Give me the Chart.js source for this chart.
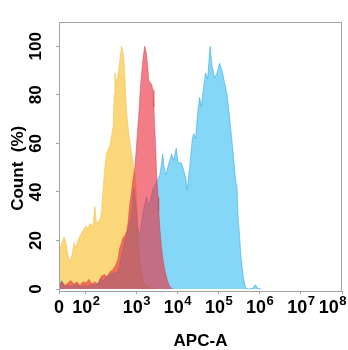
<!DOCTYPE html>
<html>
<head>
<meta charset="utf-8">
<script src="https://cdn.jsdelivr.net/npm/chart.js@4/dist/chart.umd.min.js"></script>
<style>
  html, body { margin: 0; padding: 0; background: #fff; }
  canvas { display: block; }
</style>
</head>
<body>
<canvas id="histChart" width="348" height="350"></canvas>
<script>
// APC-A axis is in display decades (10^3 -> 3); "0" and 10^2 sit on the compressed low end
const xTickPos = [1.121, 1.776, 3, 4, 5, 6, 7, 8];
const xTickBase = ['0', '10', '10', '10', '10', '10', '10', '10'];
const xTickExp = ['', '2', '3', '4', '5', '6', '7', '8'];
const yTicks = [0, 20, 40, 60, 80, 100];

// yellow population
const yellowX = [1.121, 1.170, 1.242, 1.291, 1.339, 1.388, 1.436, 1.485, 1.533, 1.582, 1.630, 1.703, 1.776, 1.824, 1.873,
    1.945, 1.994, 2.035, 2.115, 2.156, 2.195, 2.236, 2.276, 2.358, 2.438, 2.462, 2.479, 2.520, 2.559, 2.600, 2.641,
    2.673, 2.704, 2.733, 2.762, 2.794, 2.825, 2.867, 2.915, 2.964, 3.000, 3.024, 3.048, 3.085, 3.133, 3.206, 3.327, 3.448];
const yellowY = [14, 18, 21.5, 19, 14, 11, 14, 19, 17, 20, 22, 24, 26, 25, 27,
    26, 34, 27, 28.5, 32, 42, 50, 56, 59, 67, 80, 89, 85, 89, 94, 100,
    98, 94, 84, 74, 68, 63, 58, 53, 47, 40, 30, 20, 12, 6, 2, 0.5, 0];

// red population
const redX = [1.121, 1.194, 1.267, 1.339, 1.412, 1.485, 1.558, 1.630, 1.703, 1.776, 1.848, 1.921, 1.994, 2.067, 2.115,
    2.164, 2.236, 2.285, 2.358, 2.430, 2.503, 2.552, 2.600, 2.641, 2.673, 2.721, 2.770, 2.801, 2.842, 2.898, 2.927,
    2.964, 3.000, 3.029, 3.061, 3.085, 3.109, 3.141, 3.170, 3.206, 3.247, 3.279, 3.303, 3.339, 3.368, 3.407, 3.429,
    3.448, 3.473, 3.490, 3.509, 3.528, 3.545, 3.570, 3.606, 3.650, 3.691, 3.732, 3.776, 3.812, 3.885];
const redY = [2, 3, 1.5, 2.5, 3.5, 2, 3, 1.5, 3, 2.5, 4, 2, 3, 2, 4,
    5.5, 6, 5, 7, 8, 10, 12, 17, 19, 21, 22, 24, 27.6, 35, 42, 46,
    50, 58, 65, 72, 79, 85, 91, 96, 100, 97, 91, 86, 85, 84.5, 82, 75,
    67, 57, 49, 43, 38, 32, 25.6, 18, 12, 8, 5, 2.5, 1, 0];

// blue population
const blueX = [1.121, 1.194, 1.242, 1.339, 1.436, 1.533, 1.630, 1.727, 1.824, 1.921, 2.018, 2.091, 2.139, 2.188, 2.261,
    2.358, 2.455, 2.552, 2.600, 2.648, 2.721, 2.794, 2.884, 2.939, 2.988, 3.036, 3.085, 3.133, 3.182, 3.247, 3.303,
    3.352, 3.400, 3.490, 3.521, 3.570, 3.618, 3.642, 3.679, 3.715, 3.764, 3.812, 3.861, 3.909, 3.970, 4.018, 4.091,
    4.152, 4.200, 4.236, 4.297, 4.358, 4.394, 4.442, 4.491, 4.539, 4.576, 4.636, 4.685, 4.733, 4.794, 4.842, 4.903,
    4.964, 5.024, 5.085, 5.145, 5.206, 5.267, 5.339, 5.412, 5.448, 5.473, 5.509, 5.545, 5.606, 5.655, 5.727, 5.824,
    5.897, 5.945, 6.042];
const blueY = [1, 3.5, 1, 1.5, 1, 2, 1, 1.5, 1, 2, 1.5, 3, 4.5, 3, 5,
    6, 6.5, 7, 10, 14, 20, 24, 31, 42, 35, 25, 22, 28, 33, 38, 34,
    37, 41, 44, 45, 47, 52, 55.6, 50, 47, 50, 53, 55.6, 53, 58, 52, 52,
    49, 46, 40.8, 50, 61.4, 64, 62, 72.6, 79, 75, 83, 89, 86.6, 100, 91.7, 87,
    89, 93, 90, 85, 80, 71, 58.6, 45, 42, 30, 22, 13, 4.5, 0.5, 0, 0.3,
    1.8, 0.3, 0];

const FONT = '"Liberation Sans", Arial, sans-serif';

const toPoints = (xs, ys) => xs.map((x, i) => ({ x: x, y: ys[i] }));

// gray box round the plot area
const frameBox = {
    id: 'frameBox',
    afterDatasetsDraw(chart) {
        const { ctx, chartArea: a } = chart;
        ctx.save();
        ctx.strokeStyle = '#a3a3a3';
        ctx.lineWidth = 1;
        ctx.strokeRect(a.left + 0.5, a.top + 0.5, a.right - a.left - 1, a.bottom - a.top);
        ctx.restore();
    }
};

// decade labels with raised exponents
const decadeLabels = {
    id: 'decadeLabels',
    afterDraw(chart) {
        const { ctx } = chart;
        const xs = chart.scales.x;
        ctx.save();
        ctx.fillStyle = '#000';
        ctx.textBaseline = 'alphabetic';
        ctx.textAlign = 'left';
        xTickPos.forEach((v, i) => {
            const px = xs.getPixelForValue(v);
            ctx.font = 'bold 18px ' + FONT;
            const wb = ctx.measureText(xTickBase[i]).width;
            ctx.font = 'bold 13px ' + FONT;
            const we = xTickExp[i] ? ctx.measureText(xTickExp[i]).width : 0;
            let left = px - (wb + we) / 2;
            left = Math.min(left, chart.width - 2 - wb - we);
            left = Math.max(left, 2);
            ctx.font = 'bold 18px ' + FONT;
            ctx.fillText(xTickBase[i], left, 313);
            if (xTickExp[i]) {
                ctx.font = 'bold 13px ' + FONT;
                ctx.fillText(xTickExp[i], left + wb + 0.5, 305);
            }
        });
        ctx.restore();
    }
};

const ctx = document.getElementById('histChart').getContext('2d');

new Chart(ctx, {
    type: 'line',
    data: {
        datasets: [
            {
                label: 'red',
                data: toPoints(redX, redY),
                backgroundColor: 'rgba(235, 45, 60, 0.62)',
                borderColor: 'rgba(215, 50, 65, 0.45)',
                borderWidth: 1,
                fill: 'origin',
                pointRadius: 0,
                tension: 0
            },
            {
                label: 'blue',
                data: toPoints(blueX, blueY),
                backgroundColor: 'rgba(20, 178, 238, 0.52)',
                borderColor: 'rgba(40, 160, 215, 0.5)',
                borderWidth: 1,
                fill: 'origin',
                pointRadius: 0,
                tension: 0
            },
            {
                label: 'yellow',
                data: toPoints(yellowX, yellowY),
                backgroundColor: 'rgba(250, 200, 70, 0.72)',
                borderColor: 'rgba(240, 190, 70, 0.5)',
                borderWidth: 1,
                fill: 'origin',
                pointRadius: 0,
                tension: 0
            }
        ]
    },
    options: {
        responsive: false,
        animation: false,
        layout: { padding: { top: 22, right: 6, left: 0, bottom: 0 } },
        plugins: {
            legend: { display: false },
            tooltip: { enabled: false }
        },
        scales: {
            x: {
                type: 'linear',
                min: 1.121,
                max: 8,
                afterBuildTicks: (scale) => {
                    scale.ticks = xTickPos.map(v => ({ value: v }));
                },
                afterFit: (scale) => { scale.height = 59; },
                ticks: { display: false },
                grid: { drawOnChartArea: false, tickLength: 3, color: '#a3a3a3' },
                border: { display: false },
                title: {
                    display: true,
                    text: 'APC-A',
                    color: '#000',
                    padding: 0,
                    font: { family: FONT, size: 17, weight: 'bold', lineHeight: 1.05 }
                }
            },
            y: {
                min: -0.8,
                max: 110,
                afterBuildTicks: (scale) => {
                    scale.ticks = yTicks.map(v => ({ value: v }));
                },
                afterFit: (scale) => { scale.width = 59; },
                ticks: {
                    minRotation: 90,
                    maxRotation: 90,
                    crossAlign: 'center',
                    padding: 6,
                    color: '#000',
                    font: { family: FONT, size: 17, weight: 'bold' }
                },
                grid: { drawOnChartArea: false, tickLength: 3, color: '#a3a3a3' },
                border: { display: false },
                title: {
                    display: true,
                    text: 'Count  (%)     ',
                    color: '#000',
                    padding: { top: 9, bottom: 0 },
                    font: { family: FONT, size: 17, weight: 'bold', lineHeight: 1.1 }
                }
            }
        }
    },
    plugins: [frameBox, decadeLabels]
});
</script>
</body>
</html>
